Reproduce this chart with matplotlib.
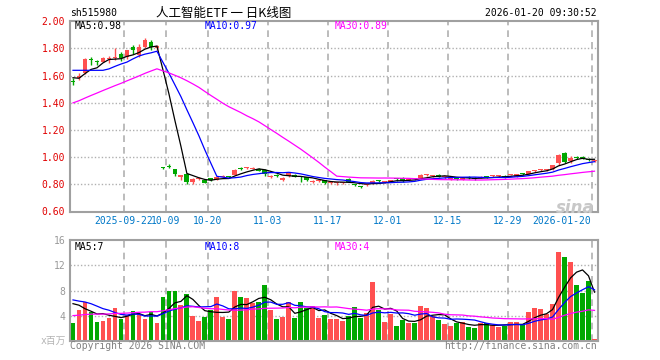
import numpy as np
import pandas as pd
import matplotlib
matplotlib.use('Agg')
import matplotlib.pyplot as plt

plt.rcParams['font.family'] = ['DejaVu Sans Mono', 'Noto Sans CJK SC']

# 图左侧之前的29个交易日 (只用于计算均线)
hist_close = [1.12, 1.13, 1.15, 1.16, 1.17, 1.19, 1.20, 1.22, 1.23, 1.25, 1.27, 1.28, 1.30, 1.33,
              1.36, 1.38, 1.40, 1.42, 1.465, 1.55, 1.60, 1.72, 1.715, 1.70, 1.73, 1.62, 1.55, 1.56, 1.64]
hist_vol = [2.9, 3.1, 2.6, 2.8, 3.0, 2.7, 2.9, 3.2, 2.8, 2.6, 2.4, 2.7, 2.5, 2.9, 2.6, 2.8, 2.5, 2.7, 3.0, 2.3,
            6.8, 7.5, 7.2, 6.9, 7.1, 6.1, 8.9, 6.5, 5.2]

# 日K数据 2025-09-09 .. 2026-01-20
opens = [1.555, 1.58, 1.62, 1.725, 1.705, 1.70, 1.72, 1.73, 1.755, 1.74,
         1.81, 1.75, 1.81, 1.845, 1.80, 0.92, 0.93, 0.91, 0.85, 0.875,
         0.82, 0.84, 0.832, 0.84, 0.835, 0.855, 0.855, 0.87, 0.92, 0.92,
         0.915, 0.915, 0.905, 0.85, 0.865, 0.83, 0.86, 0.87, 0.855, 0.85,
         0.815, 0.825, 0.828, 0.81, 0.81, 0.81, 0.84, 0.80, 0.785, 0.795,
         0.807, 0.83, 0.818, 0.82, 0.84, 0.845, 0.83, 0.838, 0.845, 0.865,
         0.862, 0.868, 0.852, 0.84, 0.845, 0.835, 0.856, 0.848, 0.848, 0.855,
         0.858, 0.86, 0.863, 0.865, 0.856, 0.878, 0.876, 0.898, 0.905, 0.908,
         0.91, 0.954, 1.032, 0.974, 1.00, 0.995, 0.985, 0.968]
highs = [1.58, 1.62, 1.73, 1.735, 1.715, 1.74, 1.745, 1.80, 1.77, 1.79,
         1.825, 1.83, 1.875, 1.86, 1.825, 0.925, 0.95, 0.91, 0.87, 0.88,
         0.845, 0.85, 0.835, 0.845, 0.86, 0.865, 0.86, 0.91, 0.93, 0.93,
         0.925, 0.92, 0.91, 0.87, 0.875, 0.85, 0.885, 0.875, 0.86, 0.855,
         0.83, 0.835, 0.83, 0.82, 0.82, 0.82, 0.845, 0.805, 0.79, 0.805,
         0.83, 0.835, 0.825, 0.83, 0.845, 0.85, 0.845, 0.845, 0.875, 0.875,
         0.87, 0.872, 0.86, 0.85, 0.85, 0.85, 0.86, 0.852, 0.86, 0.86,
         0.865, 0.865, 0.868, 0.87, 0.878, 0.882, 0.90, 0.905, 0.915, 0.915,
         0.945, 1.02, 1.04, 1.01, 1.01, 1.005, 0.995, 0.975]
lows = [1.53, 1.565, 1.61, 1.68, 1.68, 1.70, 1.695, 1.715, 1.71, 1.72,
        1.76, 1.74, 1.80, 1.79, 1.79, 0.91, 0.92, 0.86, 0.83, 0.80,
        0.80, 0.835, 0.81, 0.825, 0.83, 0.85, 0.845, 0.865, 0.905, 0.915,
        0.91, 0.895, 0.86, 0.845, 0.85, 0.825, 0.85, 0.85, 0.82, 0.825,
        0.81, 0.815, 0.805, 0.80, 0.795, 0.805, 0.815, 0.785, 0.77, 0.785,
        0.80, 0.82, 0.81, 0.815, 0.825, 0.82, 0.825, 0.83, 0.84, 0.86,
        0.855, 0.85, 0.84, 0.835, 0.83, 0.83, 0.84, 0.835, 0.845, 0.845,
        0.85, 0.855, 0.845, 0.86, 0.855, 0.87, 0.875, 0.89, 0.90, 0.90,
        0.905, 0.945, 0.955, 0.96, 0.985, 0.985, 0.97, 0.965]
closes = [1.55, 1.60, 1.72, 1.715, 1.70, 1.73, 1.725, 1.735, 1.73, 1.785,
          1.785, 1.81, 1.86, 1.81, 1.82, 0.917, 0.925, 0.875, 0.865, 0.815,
          0.84, 0.845, 0.812, 0.835, 0.855, 0.86, 0.85, 0.905, 0.915, 0.925,
          0.92, 0.90, 0.875, 0.855, 0.86, 0.845, 0.88, 0.855, 0.85, 0.83,
          0.82, 0.828, 0.81, 0.813, 0.813, 0.815, 0.82, 0.795, 0.782, 0.80,
          0.826, 0.826, 0.82, 0.822, 0.836, 0.826, 0.84, 0.836, 0.868, 0.868,
          0.865, 0.856, 0.855, 0.845, 0.84, 0.848, 0.845, 0.84, 0.851, 0.852,
          0.861, 0.862, 0.849, 0.868, 0.876, 0.876, 0.90, 0.90, 0.91, 0.91,
          0.942, 1.015, 0.966, 0.995, 0.99, 0.99, 0.975, 0.97]
volumes = [2.8, 4.9, 6.1, 4.5, 3.0, 3.1, 3.6, 5.2, 3.5, 4.1,
           4.7, 4.2, 3.4, 4.6, 2.8, 6.9, 8.0, 7.9, 5.7, 7.4,
           3.9, 3.1, 3.8, 4.9, 6.9, 3.8, 3.4, 7.9, 6.9, 6.8,
           6.0, 6.1, 8.8, 4.9, 3.4, 3.8, 6.1, 3.6, 6.1, 5.2,
           5.5, 3.6, 4.1, 3.4, 3.4, 3.1, 4.0, 5.3, 3.6, 4.4,
           9.3, 4.9, 3.0, 4.2, 2.3, 3.3, 2.8, 2.8, 5.5, 5.2,
           4.0, 3.3, 2.6, 2.3, 2.8, 3.0, 2.2, 2.0, 2.8, 2.8,
           2.5, 2.2, 2.3, 3.0, 3.0, 2.5, 4.6, 5.2, 5.0, 4.2,
           5.8, 14.2, 13.3, 12.5, 8.8, 7.6, 9.5, 0.26]

tick_idx = [9, 16, 23, 33, 43, 53, 63, 73, 87]
tick_labels = ['2025-09-22', '10-09', '10-20', '11-03', '11-17', '12-01', '12-15', '12-29', '2026-01-20']

RED = '#ff5050'
GREEN = '#00a800'
GRID = '#b0b0b0'
SPINE = '#a0a0a0'

n = len(closes)
x = np.arange(n)
o = np.array(opens)
c = np.array(closes)
cols = [RED if c[i] >= o[i] else GREEN for i in range(n)]

nh = len(hist_close)
all_c = pd.Series(hist_close + closes)
all_v = pd.Series(hist_vol + volumes)
ma_p = {w: all_c.rolling(w).mean().iloc[nh:].values for w in (5, 10, 30)}
ma_v = {w: all_v.rolling(w).mean().iloc[nh:].values for w in (5, 10, 30)}
ma_cols = {5: 'black', 10: '#0000ff', 30: '#ff00ff'}

fig = plt.figure(figsize=(6.6, 3.6), dpi=100)
ax_p = fig.add_axes([70 / 660, 148 / 360, 527.5 / 660, 191.5 / 360])
ax_v = fig.add_axes([70 / 660, 19.3 / 360, 527.5 / 660, 100.7 / 360])

for ax in (ax_p, ax_v):
    ax.set_xlim(-0.5, n - 0.5)
    for s in ax.spines.values():
        s.set_color(SPINE)
        s.set_linewidth(1.5)
    for t in tick_idx:
        ax.axvline(t - 0.5, color=GRID, lw=1.2, linestyle=(0, (4, 3)), zorder=0)
    ax.tick_params(length=0)

# Kerzen
body_bot = np.minimum(o, c)
body_h = np.maximum(np.abs(c - o), 0.008)
ax_p.vlines(x, lows, highs, colors=cols, lw=1, zorder=2)
ax_p.bar(x, body_h, bottom=body_bot, width=0.8, color=cols, linewidth=0, zorder=3)
for w in (5, 10, 30):
    ax_p.plot(x, ma_p[w], color=ma_cols[w], lw=0.9, zorder=4)

ax_p.set_ylim(0.596, 2.005)
ax_p.set_yticks(np.arange(0.6, 2.01, 0.2))
ax_p.set_yticklabels([f'{v:.2f}' for v in np.arange(0.6, 2.01, 0.2)], color='#e00000', fontsize=7)
for v in np.arange(0.8, 1.81, 0.2):
    ax_p.axhline(v, color=GRID, lw=1, linestyle=(0, (1, 1.5)), zorder=0)
ax_p.set_xticks([t - 0.5 for t in tick_idx])
ax_p.set_xticklabels(tick_labels, color='#0078c8', fontsize=7)
ax_p.tick_params(axis='x', pad=3)
ax_p.get_xticklabels()[-1].set_ha('right')

# Volumen
ax_v.bar(x, volumes, width=0.8, color=cols, linewidth=0, zorder=2)
for w in (5, 10, 30):
    ax_v.plot(x, ma_v[w], color=ma_cols[w], lw=0.9, zorder=3)
ax_v.set_ylim(0, 16.05)
ax_v.set_yticks([4, 8, 12, 16])
ax_v.set_yticklabels(['4', '8', '12', '16'], color='#999999', fontsize=7)
for v in (4, 8, 12):
    ax_v.axhline(v, color=GRID, lw=1, linestyle=(0, (1, 1.5)), zorder=0)
ax_v.set_xticks([])

def ftxt(px, py, s, **kw):
    fig.text(px / 660, 1 - py / 360, s, va='center', **kw)

ftxt(70, 13, 'sh515980', fontsize=7, color='black')
ftxt(224, 13, '人工智能ETF 一 日K线图', fontsize=9, color='black', ha='center',
     family=['Noto Sans CJK SC'])
ftxt(597, 13, '2026-01-20 09:30:52', fontsize=7, color='black', ha='right')

ftxt(75, 26, 'MA5:0.98', fontsize=7, color='black')
ftxt(205, 26, 'MA10:0.97', fontsize=7, color='#0000ff')
ftxt(335, 26, 'MA30:0.89', fontsize=7, color='#ff00ff')
ftxt(75, 247, 'MA5:7', fontsize=7, color='black')
ftxt(205, 247, 'MA10:8', fontsize=7, color='#0000ff')
ftxt(335, 247, 'MA30:4', fontsize=7, color='#ff00ff')

ftxt(66, 341, 'x百万', fontsize=7, color='#b4b4b4', ha='right')
ftxt(70, 346, 'Copyright 2026 SINA.COM', fontsize=7, color='#808080')
ftxt(597, 346, 'http://finance.sina.com.cn', fontsize=7, color='#808080', ha='right')
ftxt(595, 208, 'sina', fontsize=12, color='#c8c8c8', ha='right', fontstyle='italic',
     fontweight='bold', family=['DejaVu Sans'])

fig.savefig('out.png', dpi=100)
